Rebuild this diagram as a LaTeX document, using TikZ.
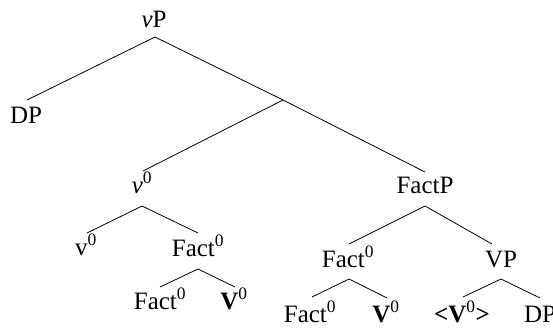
\documentclass[tikz,border=0pt]{standalone}
\usepackage{fontspec}
\setmainfont{Liberation Serif}
\begin{document}
\begin{tikzpicture}[x=1pt,y=-1pt,
  lab/.style={anchor=base,inner sep=0pt,font=\fontsize{25}{30}\selectfont},
  branch/.style={line width=0.8pt}]
\useasboundingbox (0,0) rectangle (553,327);
% labels
\node[lab] (vP) at (154,27) {\textit{v}P};
\node[lab] (DP1) at (26,123) {DP};
\node[lab] (nu0) at (142,193) {\textit{v}\textsuperscript{0}};
\node[lab] (FactP) at (425,193) {FactP};
\node[lab] (v0) at (86,255) {v\textsuperscript{0}};
\node[lab] (Fact0a) at (198,256) {Fact\textsuperscript{0}};
\node[lab] (Fact0b) at (348,267) {Fact\textsuperscript{0}};
\node[lab] (VP) at (501,267) {VP};
\node[lab] (Fact0c) at (160,309) {Fact\textsuperscript{0}};
\node[lab] (V0a) at (234,309) {\textbf{V}\textsuperscript{0}};
\node[lab] (Fact0d) at (310,322) {Fact\textsuperscript{0}};
\node[lab] (V0b) at (386,322) {\textbf{V}\textsuperscript{0}};
\node[lab] (V0c) at (462,322) {\textbf{<V}\textsuperscript{0}\textbf{>}};
\node[lab] (DP2) at (540,322) {DP};
% branch points
\coordinate (vP-s) at (155,37);
\coordinate (DP1-n) at (27,100);
\coordinate (X) at (283,100);
\coordinate (nu0-n) at (143,171);
\coordinate (FactP-n) at (425,172);
\coordinate (nu0-s) at (142,206);
\coordinate (v0-n) at (87,233);
\coordinate (Fact0a-n) at (198,233);
\coordinate (Fact0a-s) at (198,269);
\coordinate (Fact0c-n) at (160,287);
\coordinate (V0a-n) at (235,287);
\coordinate (FactP-s) at (425,206);
\coordinate (Fact0b-n) at (349,244);
\coordinate (VP-n) at (492,244);
\coordinate (Fact0b-s) at (349,279);
\coordinate (Fact0d-n) at (312,297);
\coordinate (V0b-n) at (387,298);
\coordinate (VP-s) at (501,279);
\coordinate (V0c-n) at (463,297);
\coordinate (DP2-n) at (540,298);
% connectors
\draw[branch] (DP1-n) -- (vP-s) -- (X);
\draw[branch] (X) -- (FactP-n);
\draw[branch] (X) -- (nu0-n);
\draw[branch] (v0-n) -- (nu0-s) -- (Fact0a-n);
\draw[branch] (Fact0c-n) -- (Fact0a-s) -- (V0a-n);
\draw[branch] (Fact0b-n) -- (FactP-s) -- (VP-n);
\draw[branch] (Fact0d-n) -- (Fact0b-s) -- (V0b-n);
\draw[branch] (V0c-n) -- (VP-s) -- (DP2-n);
\end{tikzpicture}
\end{document}
